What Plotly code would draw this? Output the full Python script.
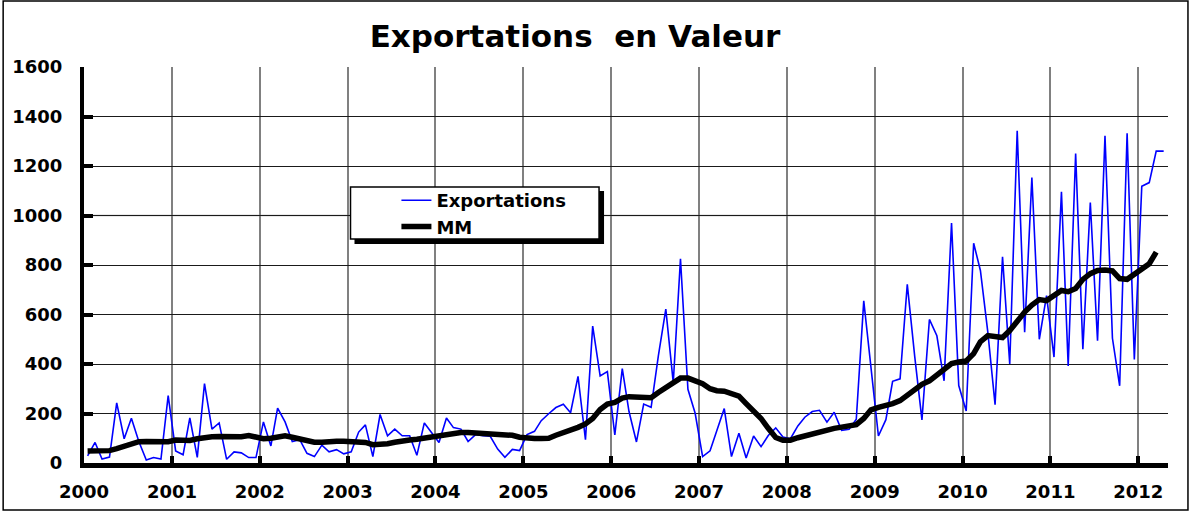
import pandas as pd
import plotly.graph_objects as go

# ---------------- data (monthly, Jan 2000 - Apr 2012) ----------------
exp_2000 = [29, 83, 16, 24, 243, 98, 181, 87, 12, 22, 16, 272]
exp_2001 = [49, 33, 182, 23, 321, 137, 162, 15, 45, 41, 22, 22]
exp_2002 = [166, 69, 222, 166, 87, 94, 39, 26, 72, 45, 54, 37]
exp_2003 = [45, 125, 154, 26, 196, 110, 137, 110, 110, 31, 162, 124]
exp_2004 = [83, 182, 143, 137, 87, 115, 110, 108, 56, 23, 55, 50]
exp_2005 = [115, 128, 171, 199, 224, 237, 203, 350, 94, 553, 352, 369]
exp_2006 = [113, 381, 208, 85, 238, 225, 433, 622, 325, 825, 298, 201]
exp_2007 = [26, 49, 127, 220, 26, 120, 20, 109, 66, 111, 142, 105]
exp_2008 = [98, 150, 185, 208, 213, 165, 205, 132, 136, 177, 655, 380]
exp_2009 = [109, 175, 330, 340, 722, 430, 174, 580, 514, 332, 970, 313]
exp_2010 = [210, 888, 778, 528, 236, 833, 400, 1342, 528, 1153, 500, 676]
exp_2011 = [428, 1096, 392, 1250, 460, 1052, 494, 1322, 504, 312, 1332, 418]
exp_2012 = [1118, 1133, 1260, 1260]

mm_2000 = [48, 47, 46, 50, 58, 67, 78, 86, 87, 86, 83, 86]
mm_2001 = [93, 93, 91, 98, 104, 106, 107, 106, 104, 106, 111, 104]
mm_2002 = [98, 100, 104, 110, 104, 96, 90, 84, 84, 88, 88, 88]
mm_2003 = [86, 84, 83, 74, 74, 78, 84, 90, 93, 96, 100, 104]
mm_2004 = [110, 117, 120, 123, 123, 122, 121, 120, 117, 115, 112, 104]
mm_2005 = [100, 99, 99, 100, 112, 122, 131, 144, 158, 180, 216, 238]
mm_2006 = [245, 262, 268, 267, 265, 264, 285, 305, 325, 343, 343, 330]
mm_2007 = [320, 300, 292, 290, 282, 270, 240, 208, 180, 140, 103, 92]
mm_2008 = [92, 102, 110, 116, 122, 130, 140, 145, 150, 155, 180, 215]
mm_2009 = [225, 230, 240, 252, 275, 302, 318, 332, 355, 375, 402, 408]
mm_2010 = [412, 442, 490, 515, 510, 507, 535, 575, 610, 638, 660, 656]
mm_2011 = [675, 697, 692, 705, 742, 765, 778, 780, 776, 745, 742, 762]
mm_2012 = [778, 805, 852]

exportations = (exp_2000 + exp_2001 + exp_2002 + exp_2003 + exp_2004 + exp_2005 + exp_2006
                + exp_2007 + exp_2008 + exp_2009 + exp_2010 + exp_2011 + exp_2012)
mm = (mm_2000 + mm_2001 + mm_2002 + mm_2003 + mm_2004 + mm_2005 + mm_2006
      + mm_2007 + mm_2008 + mm_2009 + mm_2010 + mm_2011 + mm_2012)

months = pd.date_range("2000-01-01", periods=len(exportations), freq="MS") + pd.Timedelta(days=15)

y_ticks = list(range(0, 1601, 200))
year_ticks = [f"{y}-01-01" for y in range(2000, 2013)]
year_labels = [str(y) for y in range(2000, 2013)]

# ---------------- layout geometry ----------------
W, H = 1191, 514
ML, MR, MT, MB = 82, 23, 67, 51
PW, PH = W - ML - MR, H - MT - MB


def px(xp):
    return (xp - ML) / PW


def py(yp):
    return (H - MB - yp) / PH


FONT = "DejaVu Sans"

fig = go.Figure()
fig.add_trace(go.Scatter(x=months, y=exportations, mode="lines", name="Exportations",
                         line=dict(color="#0000FF", width=1.6), legendgroup="a"))
fig.add_trace(go.Scatter(x=months[:len(mm)], y=mm, mode="lines", name="MM",
                         line=dict(color="#000000", width=5.5), legendgroup="b"))

shapes = [
    # outer frame
    dict(type="rect", xref="paper", yref="paper", x0=px(1), x1=px(1188), y0=py(1), y1=py(510),
         line=dict(color="black", width=1.5), fillcolor="rgba(0,0,0,0)", layer="above"),
    # light grey 1000 gridline
    dict(type="line", xref="paper", yref="y", x0=0, x1=1, y0=1000, y1=1000,
         line=dict(color="#d4d4d4", width=2), layer="between"),
    # legend shadow and box
    dict(type="rect", xref="paper", yref="paper", x0=px(353), x1=px(603), y0=py(191), y1=py(244),
         line=dict(width=0), fillcolor="black", layer="above"),
    dict(type="rect", xref="paper", yref="paper", x0=px(349), x1=px(598), y0=py(187), y1=py(239),
         line=dict(color="black", width=1.5), fillcolor="white", layer="above"),
]

fig.update_layout(
    width=W, height=H,
    margin=dict(l=ML, r=MR, t=MT, b=MB),
    paper_bgcolor="white", plot_bgcolor="white",
    font=dict(family=FONT, color="black"),
    title=dict(text="Exportations\u00a0\u00a0en Valeur", x=575 / W, xanchor="center",
               y=1 - 36 / H, yanchor="middle", xref="container", yref="container",
               font=dict(family=FONT, size=31, weight="bold", color="black")),
    showlegend=True,
    legend=dict(x=px(395), y=py(182), xanchor="left", yanchor="top",
                bgcolor="rgba(0,0,0,0)", borderwidth=0, tracegroupgap=0,
                font=dict(family=FONT, size=18, weight="bold", color="black")),
    shapes=shapes,
    xaxis=dict(type="date", range=["2000-01-01", "2012-05-04"],
               tickvals=year_ticks, ticktext=year_labels,
               showgrid=True, gridcolor="#808080", gridwidth=1.5,
               showline=True, linecolor="black", linewidth=5,
               ticks="inside", ticklen=7, tickwidth=4, tickcolor="black",
               tickfont=dict(family=FONT, size=18, weight="bold", color="black"),
               ticklabelstandoff=8, zeroline=False),
    yaxis=dict(range=[0, 1600], tickvals=y_ticks,
               showgrid=True, gridcolor="#1a1a1a", gridwidth=1,
               showline=True, linecolor="black", linewidth=4,
               ticks="inside", ticklen=9, tickwidth=4, tickcolor="black",
               tickfont=dict(family=FONT, size=18, weight="bold", color="black"),
               ticklabelstandoff=14, zeroline=False),
)

fig.write_html("out.html", config={"displayModeBar": False},
               post_script="document.body.style.margin='0';document.body.style.padding='0';")
